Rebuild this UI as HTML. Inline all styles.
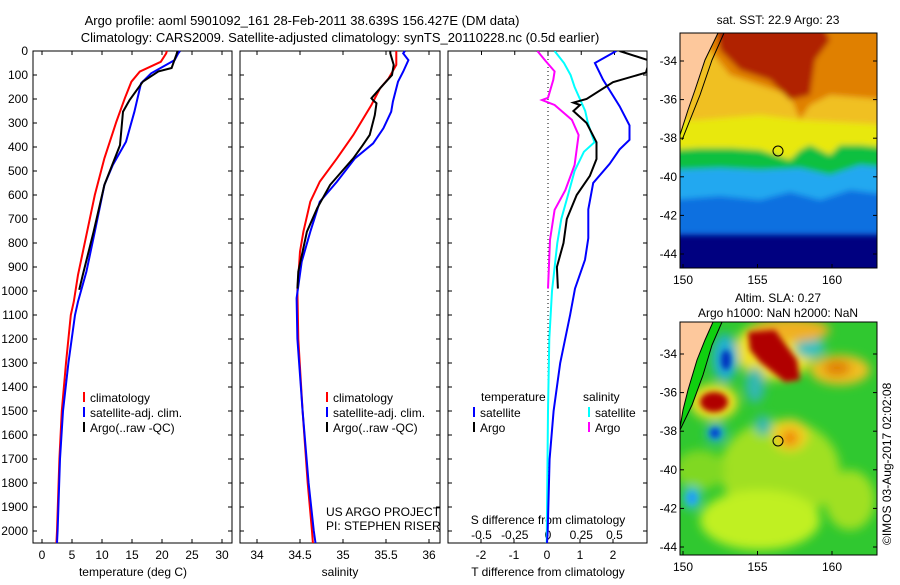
<!DOCTYPE html>
<html><head><meta charset="utf-8"><style>
body{margin:0;background:#fff;width:900px;height:580px;overflow:hidden}
svg text{font-family:"Liberation Sans",sans-serif;font-size:12px;fill:#000}
</style></head><body>
<svg id="c" width="900" height="580" xmlns="http://www.w3.org/2000/svg">
<text x="302" y="25" text-anchor="middle" style="font-size:13px">Argo profile: aoml 5901092_161 28-Feb-2011 38.639S 156.427E (DM data)</text>
<text x="340" y="42" text-anchor="middle" style="font-size:13px">Climatology: CARS2009. Satellite-adjusted climatology: synTS_20110228.nc (0.5d earlier)</text>
<g id="maps"></g>
<g id="plots"></g>
<text transform="translate(891,545) rotate(-90)">©IMOS 03-Aug-2017 02:02:08</text>
</svg>
<script>
// ---- data ----
const tempDepthClim=[0,10,45,86,128,197,294,447,600,767,933,1044,1100,1300,1500,1700,2000,2050];
const tempClim=[20.8,20.7,19.8,16.3,14.9,13.8,12.4,10.4,8.8,7.4,6.0,5.3,4.8,4.0,3.3,2.9,2.5,2.4];
const tempDepthSat=[0,10,38,93,135,253,378,475,558,753,919,1044,1100,1300,1500,1700,2000,2050];
const tempSat=[23.0,22.7,22.1,18.2,16.5,15.4,14.0,11.8,10.4,8.8,7.4,6.0,5.5,4.4,3.5,3.0,2.6,2.5];
const tempDepthArgo=[0,15,71,85,128,204,253,392,558,753,933,995];
const tempArgo=[22.6,22.4,21.6,19.4,16.8,14.6,13.5,13.0,10.4,8.6,6.8,6.2];
const salDepthClim=[0,10,58,114,156,225,350,447,544,628,753,836,1000,1200,1500,1800,2000,2050];
const salClim=[35.62,35.62,35.62,35.53,35.43,35.33,35.12,34.93,34.73,34.62,34.54,34.50,34.47,34.48,34.53,34.59,34.64,34.65];
const salDepthSat=[0,10,38,86,128,211,253,322,385,447,544,628,753,878,1030,1200,1500,1800,2000,2050];
const salSat=[35.72,35.70,35.76,35.70,35.64,35.58,35.56,35.47,35.35,35.14,34.93,34.73,34.62,34.52,34.46,34.47,34.53,34.60,34.66,34.68];
const salDepthArgo=[0,10,58,100,156,197,205,218,267,350,392,447,558,655,753,919,990];
const salArgo=[35.55,35.55,35.59,35.57,35.43,35.33,35.35,35.39,35.37,35.31,35.23,35.12,34.85,34.70,34.58,34.48,34.47];
const dTDepthSat=[0,50,120,230,310,370,410,470,550,660,780,870,990,1100,1300,1500,1700,2000,2050];
const dTSat=[2.1,1.45,1.7,2.2,2.5,2.5,2.2,1.9,1.4,1.25,1.25,1.15,0.85,0.7,0.4,0.2,0.08,0.02,0.0];
const dTDepthArgo=[0,40,90,130,200,215,225,250,300,380,450,520,600,700,800,900,990];
const dTArgo=[2.2,3.1,3.0,2.0,1.2,0.8,1.0,0.8,1.2,1.5,1.5,1.3,0.9,0.6,0.5,0.3,0.33];
const dSDepthSat=[0,50,100,150,200,250,300,350,380,420,500,600,700,800,1000,1200,1500,2050];
const dSSat=[0.05,0.12,0.17,0.2,0.24,0.28,0.3,0.33,0.35,0.27,0.2,0.15,0.1,0.07,0.03,0.01,0.0,-0.01];
const dSDepthArgo=[0,40,85,120,195,204,225,287,350,475,580,662,787,990];
const dSArgo=[-0.08,-0.02,0.05,0.04,0.0,-0.045,0.05,0.18,0.23,0.2,0.13,0.05,0.015,0.0];
const depthTicks=[0,100,200,300,400,500,600,700,800,900,1000,1100,1200,1300,1400,1500,1600,1700,1800,1900,2000];
const tempTicks=[0,5,10,15,20,25,30];
const salTicks=[34,34.5,35,35.5,36];
const dTTicks=[-2,-1,0,1,2];
const dSTicks=[-0.5,-0.25,0,0.25,0.5];
const dSTickLabels=["-0.5","-0.25","0","0.25","0.5"];

const NS="http://www.w3.org/2000/svg";
const plots=document.getElementById('plots');
function mk(tag,attrs,parent){const e=document.createElementNS(NS,tag);for(const k in attrs)e.setAttribute(k,attrs[k]);(parent||plots).appendChild(e);return e;}
const Y0=51,Y1=543;
const yD=d=>Y0+d*0.24;

function panel(x0,x1,name){
  const g=mk('g',{});
  
  
  const r=mk('rect',{x:x0,y:Y0,width:x1-x0,height:Y1-Y0,fill:'none',stroke:'#000','stroke-width':1},g);
  
  
  depthTicks.forEach(d=>{
    mk('line',{x1:x0,x2:x0+4,y1:yD(d),y2:yD(d),stroke:'#000'},g);
    mk('line',{x1:x1-4,x2:x1,y1:yD(d),y2:yD(d),stroke:'#000'},g);
  });
  return g;
}
function series(g,xs,ds,sx,color,w,name,clip){
  const pts=xs.map((v,i)=>sx(v).toFixed(1)+','+yD(ds[i]).toFixed(1)).join(' ');
  const p=mk('polyline',{points:pts,fill:'none',stroke:color,'stroke-width':w,'clip-path':clip||''},g);
  
  
}
function txt(g,x,y,s,anchor,name){
  const t=mk('text',{x:x,y:y,'text-anchor':anchor||'start'},g);t.textContent=s;
  
  
  return t;
}
function legend(g,x,y,items){
  items.forEach((it,i)=>{
    const l=mk('line',{x1:x,x2:x,y1:y+i*15-10,y2:y+i*15,stroke:it[1],'stroke-width':2},g);
    
    
    txt(g,x+6,y+i*15,it[0],'start','legend-entry-'+it[2]);
  });
}
// Panel 1 temperature
const g1=panel(33,232,'temperature-panel');
const sxT=t=>42+t*6;
depthTicks.forEach(d=>txt(g1,28,yD(d)+4,String(d),'end','depth-tick-label'));
tempTicks.forEach(t=>{mk('line',{x1:sxT(t),x2:sxT(t),y1:Y1,y2:Y1-4,stroke:'#000'},g1);mk('line',{x1:sxT(t),x2:sxT(t),y1:Y0,y2:Y0+4,stroke:'#000'},g1);txt(g1,sxT(t),559,String(t),'middle','temperature-tick-label');});
txt(g1,133,576,'temperature (deg C)','middle','temperature-axis-title');
series(g1,tempClim,tempDepthClim,sxT,'#f00',2,'temperature-climatology-line');
series(g1,tempSat,tempDepthSat,sxT,'#00f',2,'temperature-satellite-line');
series(g1,tempArgo,tempDepthArgo,sxT,'#000',2,'temperature-argo-line');
legend(g1,84,402,[['climatology','#f00','climatology'],['satellite-adj. clim.','#00f','satellite'],['Argo(..raw -QC)','#000','argo']]);
// Panel 2 salinity
const g2=panel(240,440,'salinity-panel');
const sxS=s=>257+(s-34)*86;
salTicks.forEach(s=>{mk('line',{x1:sxS(s),x2:sxS(s),y1:Y1,y2:Y1-4,stroke:'#000'},g2);mk('line',{x1:sxS(s),x2:sxS(s),y1:Y0,y2:Y0+4,stroke:'#000'},g2);txt(g2,sxS(s),559,String(s),'middle','salinity-tick-label');});
txt(g2,340,576,'salinity','middle','salinity-axis-title');
series(g2,salClim,salDepthClim,sxS,'#f00',2,'salinity-climatology-line');
series(g2,salSat,salDepthSat,sxS,'#00f',2,'salinity-satellite-line');
series(g2,salArgo,salDepthArgo,sxS,'#000',2,'salinity-argo-line');
legend(g2,327,402,[['climatology','#f00','climatology'],['satellite-adj. clim.','#00f','satellite'],['Argo(..raw -QC)','#000','argo']]);
txt(g2,326,516,'US ARGO PROJECT','start','project-label');
txt(g2,326,530,'PI: STEPHEN RISER','start','pi-label');
// Panel 3 differences
const g3=panel(448,647,'difference-panel');
const cp=mk('clipPath',{id:'clip3'},g3);mk('rect',{x:448,y:Y0,width:199,height:Y1-Y0},cp);
const sxdT=v=>547+v*33, sxdS=v=>548+v*133;
mk('line',{x1:548,x2:548,y1:Y0,y2:Y1,stroke:'#000','stroke-dasharray':'1,3'},g3);
dTTicks.forEach(v=>{mk('line',{x1:sxdT(v),x2:sxdT(v),y1:Y1,y2:Y1-4,stroke:'#000'},g3);txt(g3,sxdT(v),559,String(v),'middle','t-difference-tick-label');});
dSTicks.forEach((v,i)=>{mk('line',{x1:sxdS(v),x2:sxdS(v),y1:Y0,y2:Y0+4,stroke:'#000'},g3);txt(g3,sxdS(v),539,dSTickLabels[i],'middle','s-difference-tick-label');});
txt(g3,548,524,'S difference from climatology','middle','s-difference-axis-title');
txt(g3,548,576,'T difference from climatology','middle','t-difference-axis-title');
series(g3,dSSat,dSDepthSat,sxdS,'#0ff',2,'salinity-diff-satellite-line','url(#clip3)');
series(g3,dSArgo,dSDepthArgo,sxdS,'#f0f',2,'salinity-diff-argo-line','url(#clip3)');
series(g3,dTSat,dTDepthSat,sxdT,'#00f',2,'temperature-diff-satellite-line','url(#clip3)');
series(g3,dTArgo,dTDepthArgo,sxdT,'#000',2,'temperature-diff-argo-line','url(#clip3)');
txt(g3,481,401,'temperature','start','legend-title-temperature');
txt(g3,583,401,'salinity','start','legend-title-salinity');
legend(g3,474,417,[['satellite','#00f','t-satellite'],['Argo','#000','t-argo']]);
legend(g3,589,417,[['satellite','#0ff','s-satellite'],['Argo','#f0f','s-argo']]);

// ---- maps ----
const maps=document.getElementById('maps');
function mapAxes(g,top,bot,latTop,name){
  const sx=lon=>683+(lon-150)*14.9;
  const sy=lat=>top+(lat-latTop)*19.3;
  [150,155,160].forEach(l=>{mk('line',{x1:sx(l),x2:sx(l),y1:bot,y2:bot-4,stroke:'#000'},g);txt(g,sx(l),bot+16,String(l),'middle',name+'-lon-label');});
  [-34,-36,-38,-40,-42,-44].forEach(l=>{mk('line',{x1:680,x2:684,y1:sy(-l),y2:sy(-l),stroke:'#000'},g);mk('line',{x1:873,x2:877,y1:sy(-l),y2:sy(-l),stroke:'#000'},g);txt(g,677,sy(-l)+4,String(l),'end',name+'-lat-label');});
  return {sx,sy};
}
// SST map
const m1=mk('g',{},maps);


const c1=mk('clipPath',{id:'cm1'},m1);mk('rect',{x:680,y:33,width:197,height:235},c1);
const mg1=mk('g',{'clip-path':'url(#cm1)'},m1);
const bl=mk('filter',{id:'bl'},m1);mk('feGaussianBlur',{stdDeviation:3},bl);
const bl2=mk('filter',{id:'bl2'},m1);mk('feGaussianBlur',{stdDeviation:5},bl2);
mk('rect',{x:680,y:33,width:197,height:235,fill:'#000080'},mg1);
const sg=mk('g',{filter:'url(#bl)'},mg1);
mk('rect',{x:670,y:20,width:220,height:215,fill:'#1070e0'},sg);
mk('polygon',{points:'670,20 890,20 890,195 850,190 820,200 790,192 760,200 720,196 670,200',fill:'#20a8f0'},sg);
mk('polygon',{points:'670,20 890,20 890,168 860,165 830,175 800,168 760,170 720,168 670,170',fill:'#10c040'},sg);
mk('polygon',{points:'670,20 890,20 890,148 860,145 840,145 830,155 810,145 800,150 790,160 760,150 730,148 700,148 670,150',fill:'#e8e810'},sg);
mk('polygon',{points:'670,20 890,20 890,125 800,120 760,115 700,120 670,120',fill:'#f0c020'},sg);
mk('polygon',{points:'700,20 890,20 890,100 830,95 810,105 800,120 790,95 760,85 730,75 710,50',fill:'#e08000'},sg);
mk('polygon',{points:'715,20 820,20 830,40 815,60 810,95 790,100 770,80 740,70 720,50',fill:'#b02000'},sg);
mk('polygon',{points:'680,33 718,33 705,60 695,90 688,110 680,135',fill:'#fdc89c'},mg1);
mk('polyline',{points:'718,33 705,60 695,90 688,110 680,135',fill:'none',stroke:'#000'},mg1);
mk('polyline',{points:'724,33 712,60 700,95 690,120 682,140',fill:'none',stroke:'#000'},mg1);
mk('rect',{x:680,y:33,width:197,height:235,fill:'none',stroke:'#000'},m1);
mapAxes(m1,61,268,34,'sst-map');
const ci1=mk('circle',{cx:778,cy:151,r:5,fill:'none',stroke:'#000'},m1);

txt(m1,778,24,'sat. SST: 22.9 Argo: 23','middle','sst-map-title');
// SLA map
const m2=mk('g',{},maps);


const c2=mk('clipPath',{id:'cm2'},m2);mk('rect',{x:680,y:322,width:197,height:233},c2);
const mg2=mk('g',{'clip-path':'url(#cm2)'},m2);
mk('rect',{x:680,y:322,width:197,height:233,fill:'#30c830'},mg2);
const lg=mk('g',{filter:'url(#bl2)'},mg2);
[
 [780,470,60,50,'#a0e020'],[760,520,60,30,'#c0f020'],[850,500,25,30,'#a0e020'],[700,470,25,20,'#80d820'],
 [775,350,40,30,'#f0e020'],[840,370,30,15,'#f0c020'],[837,368,14,8,'#e08000'],[790,435,18,16,'#f0d020'],[790,438,8,8,'#f08000'],
 [714,402,24,18,'#f0e020'],[810,348,15,10,'#30c0c0'],[755,385,10,18,'#30b8b0'],[763,425,8,10,'#30b8b0'],
 [725,358,13,24,'#20b0d0'],[716,433,10,10,'#20b0d0'],[692,498,9,12,'#30c0d0'],[790,330,40,12,'#f0b020']
].forEach(e=>mk('ellipse',{cx:e[0],cy:e[1],rx:e[2],ry:e[3],fill:e[4]},lg));
const lg2=mk('g',{filter:'url(#bl)'},mg2);
mk('polygon',{points:'748,332 775,330 797,360 800,380 785,382 760,362 750,350',fill:'#b00000'},lg2);
mk('ellipse',{cx:714,cy:402,rx:14,ry:10,fill:'#b00000'},lg2);
mk('ellipse',{cx:726,cy:360,rx:5,ry:10,fill:'#0030c0'},lg2);
mk('ellipse',{cx:715,cy:433,rx:5,ry:5,fill:'#0040d0'},lg2);
mk('ellipse',{cx:692,cy:498,rx:5,ry:6,fill:'#20a0f0'},lg2);
mk('polygon',{points:'680,322 713,322 705,340 697,360 688,390 683,410 680,428',fill:'#fdc89c'},mg2);
mk('polygon',{points:'713,322 722,322 712,345 703,375 692,405 680,430 680,428 683,410 688,390 697,360 705,340',fill:'#10d010'},mg2);
mk('polyline',{points:'713,322 705,340 697,360 688,390 683,410 680,428',fill:'none',stroke:'#000'},mg2);
mk('polyline',{points:'722,322 712,345 703,375 692,405 680,430',fill:'none',stroke:'#000'},mg2);
mk('rect',{x:680,y:322,width:197,height:233,fill:'none',stroke:'#000'},m2);
mapAxes(m2,354,555,34,'sla-map');
const ci2=mk('circle',{cx:778,cy:441,r:5,fill:'none',stroke:'#000'},m2);

txt(m2,778,302,'Altim. SLA: 0.27','middle','sla-map-title');
txt(m2,778,317,'Argo h1000: NaN h2000: NaN','middle','sla-map-subtitle');
</script>
</body></html>
